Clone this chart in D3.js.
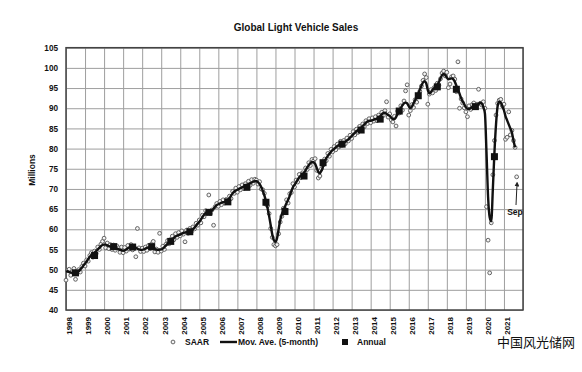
<!DOCTYPE html>
<html>
<head>
<meta charset="utf-8">
<script src="https://cdn.jsdelivr.net/npm/d3@7"></script>
<style>
  html, body { margin: 0; padding: 0; background: #fff; }
  svg text { font-family: "Liberation Sans", Arial, sans-serif; fill: #111; }
</style>
</head>
<body>
<div class="chart"></div>
<script>
// tick labels
var yearLabels = d3.range(1998, 2022);
var yTicks = d3.range(40, 106, 5);

// monthly SAAR (Jan..Dec), millions
var saar = [
  [47.4, 49.8, 50.1, 48.6, 49.5, 50.3, 47.6, 49.2, 50.0, 49.4, 50.8, 51.6],
  [50.9, 52.4, 52.1, 53.5, 54.2, 53.1, 54.6, 54.0, 55.6, 55.0, 56.3, 57.0],
  [57.8, 55.4, 56.6, 55.2, 56.2, 55.0, 56.1, 54.8, 55.9, 55.4, 54.3, 55.6],
  [54.2, 55.5, 54.6, 56.0, 55.1, 56.2, 54.9, 55.6, 53.2, 60.2, 55.4, 54.5],
  [55.3, 54.5, 55.6, 54.8, 56.0, 55.2, 56.4, 57.0, 54.4, 55.1, 54.3, 59.0],
  [54.6, 55.8, 55.0, 56.3, 57.2, 56.4, 57.5, 58.3, 57.4, 58.9, 58.0, 59.2],
  [58.4, 59.6, 58.8, 56.9, 59.8, 59.0, 60.2, 59.4, 60.6, 60.1, 61.5, 61.0],
  [62.3, 61.6, 63.5, 63.1, 64.6, 64.0, 68.5, 63.9, 64.8, 61.0, 65.6, 66.4],
  [65.7, 66.9, 66.1, 67.3, 66.5, 67.4, 66.8, 68.2, 67.6, 69.4, 68.9, 70.2],
  [69.2, 70.6, 69.8, 71.0, 70.1, 71.3, 70.5, 71.9, 70.9, 72.3, 71.4, 72.4],
  [72.2, 71.2, 71.8, 70.0, 69.8, 68.9, 66.2, 65.8, 63.9, 60.2, 58.0, 56.2],
  [55.9, 56.2, 58.9, 61.8, 63.2, 65.2, 65.0, 67.3, 66.5, 68.8, 69.1, 71.3],
  [70.5, 72.2, 71.7, 73.6, 72.8, 74.0, 73.4, 75.2, 74.8, 76.5, 75.8, 77.3],
  [76.9, 77.5, 74.6, 72.7, 73.2, 75.0, 75.9, 77.4, 77.0, 78.8, 78.1, 79.8],
  [79.2, 80.5, 79.7, 81.1, 80.4, 81.8, 80.8, 82.0, 81.2, 82.6, 81.9, 83.3],
  [82.5, 84.2, 83.4, 84.8, 84.0, 85.5, 84.6, 86.1, 85.4, 86.9, 86.2, 87.4],
  [86.4, 87.6, 86.8, 87.9, 86.9, 88.3, 87.5, 89.0, 88.2, 89.4, 91.6, 87.8],
  [88.6, 87.1, 86.6, 88.0, 85.6, 89.3, 88.8, 90.6, 89.5, 91.8, 94.3, 95.8],
  [88.3, 89.4, 90.9, 90.2, 92.1, 91.5, 93.3, 94.2, 95.5, 96.9, 98.5, 97.6],
  [91.0, 93.5, 94.6, 93.8, 95.1, 94.4, 96.2, 95.7, 97.3, 98.7, 99.2, 98.0],
  [98.9, 95.1, 96.0, 97.8, 98.0, 97.2, 94.1, 101.5, 90.0, 92.3, 91.3, 90.1],
  [89.1, 87.9, 90.6, 89.7, 90.9, 91.3, 90.2, 91.0, 94.7, 91.2, 90.8, 91.6],
  [90.0, 65.6, 57.3, 49.2, 61.6, 73.5, 82.0, 88.3, 91.2, 92.0, 92.2, 90.6],
  [91.0, 82.3, 82.8, 89.1, 83.4, 84.5, 82.0, 80.3, 73.0]
];

// 5-month moving average (Jan..Dec)
var movAvg = [
  [49.5, 49.6, 49.4, 49.3, 49.2, 49.0, 49.1, 49.3, 49.6, 50.0, 50.5, 51.0],
  [51.5, 52.0, 52.6, 53.2, 53.6, 53.9, 54.2, 54.6, 55.0, 55.4, 55.8, 56.1],
  [56.2, 56.2, 56.0, 55.8, 55.7, 55.7, 55.6, 55.5, 55.3, 55.1, 54.9, 54.8],
  [54.7, 54.8, 55.0, 55.3, 55.5, 55.6, 55.7, 55.6, 55.4, 55.2, 55.0, 54.9],
  [54.9, 55.0, 55.2, 55.4, 55.5, 55.6, 55.5, 55.3, 55.1, 55.0, 54.9, 55.0],
  [55.0, 55.2, 55.6, 56.0, 56.4, 56.8, 57.2, 57.6, 57.9, 58.2, 58.4, 58.6],
  [58.7, 58.9, 59.1, 59.2, 59.3, 59.4, 59.5, 59.7, 60.0, 60.4, 60.9, 61.4],
  [61.8, 62.4, 63.0, 63.6, 64.0, 64.2, 64.3, 64.4, 64.7, 65.1, 65.6, 66.0],
  [66.2, 66.4, 66.6, 66.7, 66.8, 66.9, 67.2, 67.7, 68.3, 68.9, 69.3, 69.6],
  [69.8, 70.0, 70.2, 70.4, 70.6, 70.8, 71.0, 71.2, 71.4, 71.6, 71.8, 71.9],
  [71.9, 71.7, 71.2, 70.5, 69.6, 68.4, 67.0, 65.3, 63.3, 61.0, 58.7, 57.3],
  [56.9, 57.8, 60.0, 62.3, 63.7, 64.6, 65.6, 66.5, 67.3, 68.3, 69.4, 70.4],
  [71.0, 71.6, 72.3, 72.9, 73.3, 73.6, 74.0, 74.6, 75.3, 75.9, 76.4, 76.6],
  [76.6, 76.2, 75.2, 74.2, 73.9, 74.5, 75.6, 76.8, 77.6, 78.2, 78.7, 79.2],
  [79.6, 79.9, 80.3, 80.6, 80.9, 81.1, 81.3, 81.5, 81.7, 82.0, 82.3, 82.7],
  [83.1, 83.5, 83.9, 84.3, 84.6, 84.9, 85.2, 85.6, 86.0, 86.4, 86.7, 86.9],
  [86.9, 87.0, 87.2, 87.3, 87.4, 87.6, 88.0, 88.5, 88.8, 88.9, 88.6, 88.3],
  [88.1, 87.7, 87.3, 87.3, 87.8, 88.6, 89.4, 90.1, 90.7, 91.2, 91.4, 91.2],
  [90.5, 90.0, 90.4, 91.2, 92.0, 92.8, 93.6, 94.6, 95.6, 96.4, 96.7, 96.2],
  [94.5, 93.7, 94.0, 94.6, 95.0, 95.4, 95.8, 96.5, 97.4, 98.2, 98.5, 98.2],
  [97.6, 97.2, 97.3, 97.4, 97.2, 96.6, 95.6, 94.6, 93.6, 92.5, 91.7, 91.0],
  [90.2, 89.9, 89.8, 90.0, 90.3, 90.5, 90.5, 90.6, 91.0, 91.4, 91.2, 90.3],
  [88.7, 79.0, 68.0, 63.0, 62.0, 70.0, 79.0, 86.0, 90.5, 91.6, 91.4, 90.5],
  [89.5, 88.0, 87.0, 86.0, 85.0, 84.0, 82.0, 80.3]
];

// annual totals, 1998..2020
var annual = [49.2, 53.5, 55.7, 55.6, 55.7, 57.0, 59.4, 64.2, 66.8, 70.4, 66.7, 64.4,
              73.2, 76.5, 81.1, 84.6, 87.3, 89.3, 93.1, 95.3, 94.7, 90.4, 78.0];

(() => {
var W = 582, H = 372;
var plot = {left: 66, right: 523, top: 47.7, bottom: 310};

var svg = d3.select('div.chart')
  .append('svg')
    .attr('width', W)
    .attr('height', H);

var x = d3.scaleLinear().domain([1998, 2022]).range([plot.left, plot.right]);
var y = d3.scaleLinear().domain([40, 105]).range([plot.bottom, plot.top]);

function monthly(rows) {
  var out = [];
  rows.forEach((r, i) => r.forEach((v, m) => out.push({t: 1998 + i + m / 12, v: v})));
  return out;
}

// grid
svg.append('g')
  .attr('transform', 'translate(' + plot.left + ',0)')
  .call(d3.axisLeft(y).tickValues(yTicks).tickSize(-(plot.right - plot.left)).tickFormat(''))
  .call(g => g.select('.domain').remove())
  .selectAll('line').attr('stroke', '#9e9e9e').attr('stroke-width', 1);

svg.append('g')
  .attr('transform', 'translate(0,' + plot.bottom + ')')
  .call(d3.axisBottom(x).tickValues(d3.range(1998, 2023)).tickSize(-(plot.bottom - plot.top)).tickFormat(''))
  .call(g => g.select('.domain').remove())
  .selectAll('line').attr('stroke', '#9e9e9e').attr('stroke-width', 1);

svg.append('rect')
  .attr('x', plot.left).attr('y', plot.top)
  .attr('width', plot.right - plot.left).attr('height', plot.bottom - plot.top)
  .attr('fill', 'none').attr('stroke', '#444').attr('stroke-width', 1.5);

// y axis labels
svg.append('g')
  .attr('transform', 'translate(' + plot.left + ',0)')
  .call(d3.axisLeft(y).tickValues(yTicks).tickSize(0).tickPadding(8))
  .call(g => g.select('.domain').remove())
  .selectAll('text')
    .style('font-size', '8.2px')
    .style('font-weight', 'bold');

// x axis labels (rotated)
svg.append('g')
  .attr('transform', 'translate(0,' + plot.bottom + ')')
  .call(d3.axisBottom(x).tickValues(yearLabels).tickSize(0).tickFormat(d3.format('d')))
  .call(g => g.select('.domain').remove())
  .selectAll('text')
    .style('font-size', '8px')
    .style('font-weight', 'bold')
    .attr('text-anchor', 'end')
    .attr('x', -7)
    .attr('y', 3)
    .attr('dy', '0.35em')
    .attr('transform', 'rotate(-90)');

// series
var saarData = monthly(saar);
var maData = monthly(movAvg);
var annualData = annual.map((v, i) => ({t: 1998 + i + 0.5, v: v}));

svg.append('g')
  .selectAll('circle')
  .data(saarData)
  .enter()
  .append('circle')
    .attr('cx', d => x(d.t))
    .attr('cy', d => y(d.v))
    .attr('r', 1.9)
    .attr('fill', '#f4f4f4')
    .attr('stroke', '#555')
    .attr('stroke-width', 0.9);

svg.append('path')
  .datum(maData)
  .attr('fill', 'none')
  .attr('stroke', '#111')
  .attr('stroke-width', 2.4)
  .attr('stroke-linejoin', 'round')
  .attr('d', d3.line().x(d => x(d.t)).y(d => y(d.v)).curve(d3.curveMonotoneX));

svg.append('g')
  .selectAll('rect')
  .data(annualData)
  .enter()
  .append('rect')
    .attr('x', d => x(d.t) - 3.5)
    .attr('y', d => y(d.v) - 3.5)
    .attr('width', 7)
    .attr('height', 7)
    .attr('fill', '#111');

// title and axis title
svg.append('text')
  .attr('x', 296).attr('y', 31)
  .attr('text-anchor', 'middle')
  .style('font-size', '10px')
  .style('font-weight', 'bold')
  .text('Global Light Vehicle Sales');

svg.append('text')
  .attr('transform', 'translate(35,170) rotate(-90)')
  .attr('text-anchor', 'middle')
  .style('font-size', '8.5px')
  .style('font-weight', 'bold')
  .text('Millions');

// Sep annotation
svg.append('defs').append('marker')
  .attr('id', 'arr')
  .attr('viewBox', '0 0 10 10')
  .attr('refX', 5).attr('refY', 5)
  .attr('markerWidth', 5).attr('markerHeight', 5)
  .attr('orient', 'auto')
  .append('path').attr('d', 'M0,0L10,5L0,10z').attr('fill', '#222');

svg.append('line')
  .attr('x1', 516).attr('y1', 205)
  .attr('x2', 517).attr('y2', 184)
  .attr('stroke', '#222').attr('stroke-width', 1)
  .attr('marker-end', 'url(#arr)');

svg.append('text')
  .attr('x', 515).attr('y', 215)
  .attr('text-anchor', 'middle')
  .style('font-size', '8.5px')
  .style('font-weight', 'bold')
  .text('Sep');

// legend
var lg = svg.append('g').attr('transform', 'translate(0,342)');
lg.append('circle').attr('cx', 173).attr('cy', 0).attr('r', 1.9)
  .attr('fill', '#f4f4f4').attr('stroke', '#555').attr('stroke-width', 0.9);
lg.append('text').attr('x', 185).attr('y', 3).style('font-size', '8.5px').style('font-weight', 'bold').text('SAAR');
lg.append('line').attr('x1', 220).attr('x2', 237).attr('y1', 0).attr('y2', 0)
  .attr('stroke', '#111').attr('stroke-width', 2.4);
lg.append('text').attr('x', 238).attr('y', 3).style('font-size', '8.5px').style('font-weight', 'bold').text('Mov. Ave. (5-month)');
lg.append('rect').attr('x', 342).attr('y', -3).attr('width', 6).attr('height', 6).attr('fill', '#111');
lg.append('text').attr('x', 357).attr('y', 3).style('font-size', '8.5px').style('font-weight', 'bold').text('Annual');

// watermark
svg.append('text')
  .attr('x', 497).attr('y', 347)
  .style('font-family', '"Noto Sans CJK SC", sans-serif')
  .style('font-size', '13px')
  .text('中国风光储网');
})();
</script>
</body>
</html>
